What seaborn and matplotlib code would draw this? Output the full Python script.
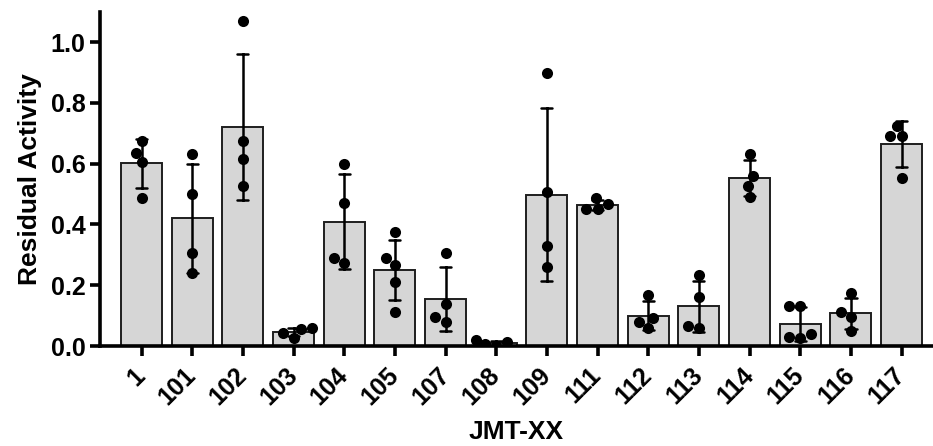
import numpy as np
import pandas as pd
import seaborn as sns
import matplotlib.pyplot as plt

# Compound identifiers along the x axis
compounds = ["1", "101", "102", "103", "104", "105", "107", "108",
             "109", "111", "112", "113", "114", "115", "116", "117"]

# Residual activity replicates for each compound
jmt_1 = [0.674, 0.636, 0.604, 0.488]
jmt_101 = [0.633, 0.499, 0.307, 0.239]
jmt_102 = [1.069, 0.675, 0.615, 0.526]
jmt_103 = [0.056, 0.027, 0.042, 0.058]
jmt_104 = [0.600, 0.472, 0.291, 0.272]
jmt_105 = [0.374, 0.288, 0.266, 0.209, 0.111]
jmt_107 = [0.307, 0.138, 0.096, 0.079]
jmt_108 = [0.020, 0.012, 0.005, 0.000]
jmt_109 = [0.897, 0.507, 0.330, 0.259]
jmt_111 = [0.467, 0.450, 0.450, 0.486]
jmt_112 = [0.168, 0.091, 0.058, 0.080]
jmt_113 = [0.234, 0.162, 0.067, 0.058]
jmt_114 = [0.633, 0.560, 0.527, 0.491]
jmt_115 = [0.133, 0.133, 0.039, 0.027, 0.029]
jmt_116 = [0.173, 0.113, 0.094, 0.050]
jmt_117 = [0.725, 0.691, 0.691, 0.554]

y_ticks = [0.0, 0.2, 0.4, 0.6, 0.8, 1.0]

groups = [jmt_1, jmt_101, jmt_102, jmt_103, jmt_104, jmt_105, jmt_107, jmt_108,
          jmt_109, jmt_111, jmt_112, jmt_113, jmt_114, jmt_115, jmt_116, jmt_117]
df = pd.DataFrame({
    "JMT-XX": np.repeat(compounds, [len(g) for g in groups]),
    "Residual Activity": np.concatenate(groups),
})

sns.set_theme(style="ticks")
plt.rcParams["font.family"] = ["Liberation Sans", "DejaVu Sans"]
plt.rcParams["font.weight"] = "bold"
for key in ("text.color", "axes.labelcolor", "xtick.color", "ytick.color", "axes.edgecolor"):
    plt.rcParams[key] = "black"

fig = plt.figure(figsize=(9.33, 4.46), dpi=100)
ax = fig.add_axes([100 / 933, 100 / 446, 832 / 933, 334.4 / 446])

sns.barplot(data=df, x="JMT-XX", y="Residual Activity", order=compounds,
            errorbar="sd", color="#d6d6d6", saturation=1, width=0.81,
            edgecolor="#1e1e1e", linewidth=1.4, capsize=0.22,
            err_kws={"color": "black", "linewidth": 1.8}, ax=ax)
sns.swarmplot(data=df, x="JMT-XX", y="Residual Activity", order=compounds,
              color="black", size=8, ax=ax)

ax.set_ylim(0, 1.1)
ax.set_xlim(-0.82, 15.6)
ax.set_yticks(y_ticks)
ax.set_yticklabels([f"{v:.1f}" for v in y_ticks], fontsize=18, fontweight="bold")
ax.set_xticks(range(len(compounds)))
ax.set_xticklabels(compounds, rotation=45, ha="right", va="center",
                   rotation_mode="anchor", fontsize=18, fontweight="bold")

sns.despine(ax=ax)
for side in ("left", "bottom"):
    ax.spines[side].set_linewidth(2.6)
ax.tick_params(axis="both", width=2.6, length=7.5, color="black", pad=3)
ax.tick_params(axis="x", pad=11)

ax.set_ylabel("Residual Activity", fontsize=19, fontweight="bold", labelpad=6)
ax.set_xlabel("JMT-XX", fontsize=19, fontweight="bold")
ax.xaxis.set_label_coords(0.5, -0.222)

fig.savefig("out.png", dpi=100)
